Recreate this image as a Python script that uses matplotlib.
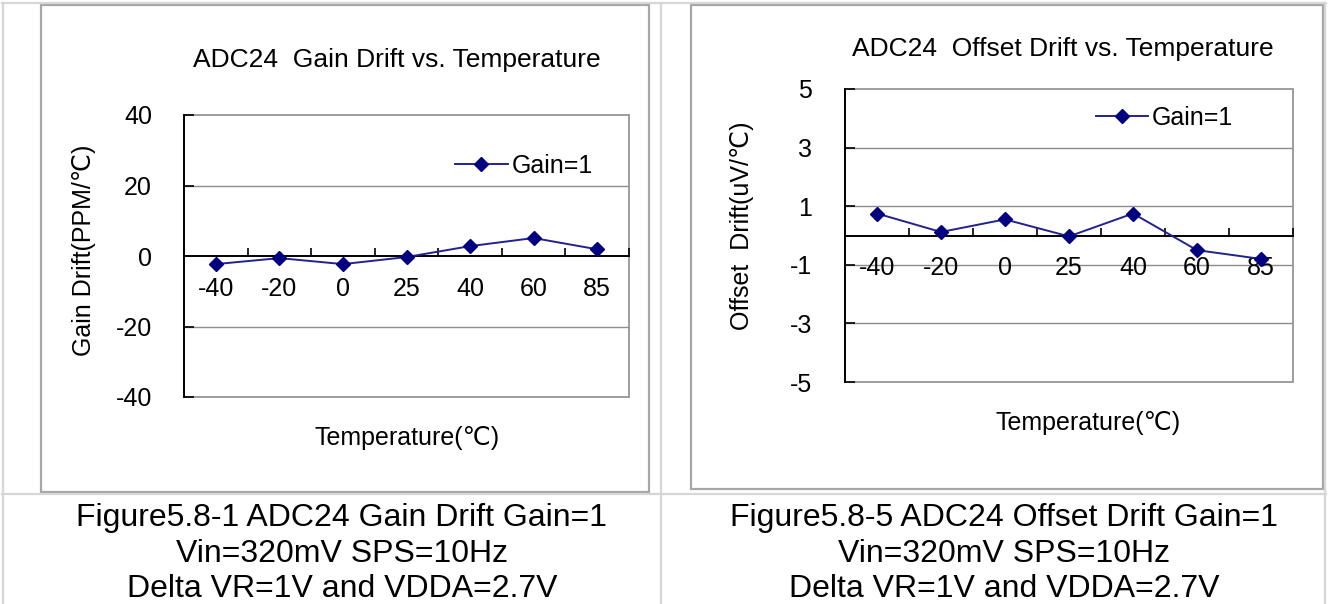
import matplotlib
matplotlib.use("Agg")
import matplotlib.pyplot as plt
from matplotlib.patches import Rectangle
from matplotlib.lines import Line2D

plt.rcParams['font.family'] = ['Liberation Sans', 'DejaVu Sans']

# ---- data ----
temperatures = ["-40", "-20", "0", "25", "40", "60", "85"]
gain_drift = [-2.3, -0.6, -2.3, -0.3, 2.8, 5.1, 1.9]          # PPM/℃
offset_drift = [0.75, 0.12, 0.55, -0.03, 0.75, -0.5, -0.8]     # uV/℃
gain_yticks = [-40, -20, 0, 20, 40]
offset_yticks = [-5, -3, -1, 1, 3, 5]
series_label = "Gain=1"

W, H = 1328, 604
fig = plt.figure(figsize=(W / 100, H / 100), dpi=100)

# background layer in pixel coordinates: table rules, chart frames, texts
bg = fig.add_axes([0, 0, 1, 1], zorder=-5)
bg.set_xlim(0, W)
bg.set_ylim(H, 0)
bg.axis("off")

table_c = "#d6d6d6"
frame_c = "#a6a6a6"
for x in (3, 661, 1325):
    bg.add_line(Line2D([x, x], [3, H], color=table_c, lw=1.6))
for y in (3, 494):
    bg.add_line(Line2D([2, 1326], [y, y], color=table_c, lw=1.6))
bg.add_patch(Rectangle((41, 5), 608, 487, fill=False, ec=frame_c, lw=1.6))
bg.add_patch(Rectangle((691, 5), 632, 484, fill=False, ec=frame_c, lw=1.6))

captions_left = ["Figure5.8-1 ADC24 Gain Drift Gain=1",
                 "Vin=320mV SPS=10Hz",
                 "Delta VR=1V and VDDA=2.7V"]
captions_right = ["Figure5.8-5 ADC24 Offset Drift Gain=1",
                  "Vin=320mV SPS=10Hz",
                  "Delta VR=1V and VDDA=2.7V"]
for i, (a, b) in enumerate(zip(captions_left, captions_right)):
    yb = 526 + i * 35.5
    bg.text(342, yb, a, ha="center", va="baseline", fontsize=23, color="black")
    bg.text(1004, yb, b, ha="center", va="baseline", fontsize=23, color="black")

bg.text(397, 67, "ADC24  Gain Drift vs. Temperature", ha="center",
        va="baseline", fontsize=19)
bg.text(1063, 56, "ADC24  Offset Drift vs. Temperature", ha="center",
        va="baseline", fontsize=19)
bg.text(407, 445, "Temperature(℃)", ha="center", va="baseline", fontsize=18)
bg.text(1088, 430, "Temperature(℃)", ha="center", va="baseline", fontsize=18)
bg.text(84, 250, "Gain Drift(PPM/℃)", ha="center", va="center",
        rotation=90, fontsize=18)
bg.text(742, 226, "Offset  Drift(uV/℃)", ha="center", va="center",
        rotation=90, fontsize=18)


def px_axes(l, t, r, b):
    return fig.add_axes([l / W, 1 - b / H, (r - l) / W, (b - t) / H])


grid_c = "#8c8c8c"
line_c = "#22228e"
mark_c = "#000080"


def draw_panel(ax, values, yticks, legend_xy, ypad):
    x = list(range(len(temperatures)))
    ax.plot(x, values, color=line_c, lw=1.4, marker="D", markersize=7.5,
            markerfacecolor=mark_c, markeredgecolor=mark_c,
            label=series_label, zorder=5, clip_on=False)
    ax.set_xlim(-0.5, len(temperatures) - 0.5)
    ax.set_ylim(yticks[0], yticks[-1])
    ax.set_yticks(yticks)
    ax.set_yticklabels([str(v) for v in yticks])
    ax.set_xticks(x)
    ax.set_xticklabels(temperatures)
    ax.set_xticks([i - 0.5 for i in range(len(temperatures) + 1)], minor=True)
    for v in yticks[1:-1]:
        if v != 0:
            ax.axhline(v, color=grid_c, lw=1.0, zorder=1)
    ax.add_patch(Rectangle((0, 0), 1, 1, transform=ax.transAxes, fill=False,
                           ec=grid_c, lw=1.2, zorder=1, clip_on=False))
    for s in ("top", "right"):
        ax.spines[s].set_visible(False)
    ax.spines["left"].set_color("black")
    ax.spines["left"].set_linewidth(1.4)
    ax.spines["bottom"].set_position(("data", 0))
    ax.spines["bottom"].set_color("black")
    ax.spines["bottom"].set_linewidth(1.4)
    ax.tick_params(axis="y", direction="in", length=7, width=1.2,
                   pad=ypad, labelsize=18)
    ax.tick_params(axis="x", which="major", length=0, pad=15, labelsize=18)
    ax.tick_params(axis="x", which="minor", direction="in", length=5.5,
                   width=1.2)
    leg = ax.legend(loc="center left", bbox_to_anchor=legend_xy, frameon=False,
                    fontsize=18, handlelength=2.1, handletextpad=0.15,
                    borderpad=0, borderaxespad=0)
    return leg


ax1 = px_axes(184, 115, 629, 397)
draw_panel(ax1, gain_drift, gain_yticks, (0.609, 0.819), 23)

ax2 = px_axes(845, 89, 1293, 382)
draw_panel(ax2, offset_drift, offset_yticks, (0.560, 0.901), 23.5)

fig.savefig("out.png", dpi=100)
